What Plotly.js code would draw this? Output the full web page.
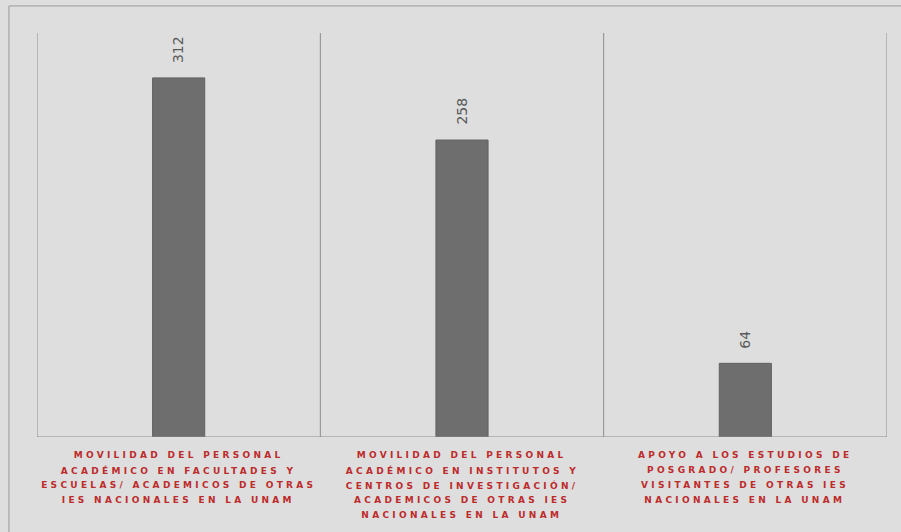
<!DOCTYPE html>
<html>
<head>
<meta charset="utf-8">
<script src="https://cdn.plot.ly/plotly-3.0.1.min.js"></script>
<style>
html,body{margin:0;padding:0;background:#dedede;}
#chart{width:901px;height:532px;}
.catlab text{letter-spacing:3.3px;}
</style>
</head>
<body>
<div id="chart"></div>
<script>
// Data
const categories = [
  "MOVILIDAD DEL PERSONAL<br>ACADÉMICO EN FACULTADES Y<br>ESCUELAS/ ACADEMICOS DE OTRAS<br>IES NACIONALES EN LA UNAM",
  "MOVILIDAD DEL PERSONAL<br>ACADÉMICO EN INSTITUTOS Y<br>CENTROS DE INVESTIGACIÓN/<br>ACADEMICOS DE OTRAS IES<br>NACIONALES EN LA UNAM",
  "APOYO A LOS ESTUDIOS DE<br>POSGRADO/ PROFESORES<br>VISITANTES DE OTRAS IES<br>NACIONALES EN LA UNAM"
];
const values = [312, 258, 64];

const xIdx = categories.map((c, i) => i);

const annotations = [];
// value labels
values.forEach((v, i) => {
  annotations.push({
    x: i, y: v, xref: 'x', yref: 'y',
    text: String(v), showarrow: false, textangle: -90,
    yanchor: 'bottom', yshift: 13,
    font: {family: 'DejaVu Sans, sans-serif', size: 14, color: '#5a5a5a'}
  });
});
// category labels, one annotation per line
categories.forEach((c, i) => {
  c.split('<br>').forEach((line, j) => {
    annotations.push({
      x: i, y: 0, xref: 'x', yref: 'y',
      text: line, showarrow: false,
      yanchor: 'middle', xanchor: 'center', yshift: -18 - j * 15,
      font: {family: 'DejaVu Sans, sans-serif', size: 9, color: '#bd2b2b', weight: 'bold'},
      captureevents: false
    });
  });
});

const shapes = [];
[-0.5, 0.5, 1.5, 2.5].forEach(xv => {
  shapes.push({type: 'line', xref: 'x', yref: 'paper', x0: xv, x1: xv, y0: 0, y1: 1,
    line: {color: '#8c8c8c', width: 1}});
});
shapes.push({type: 'line', xref: 'x', yref: 'y', x0: -0.5, x1: 2.5, y0: 0, y1: 0,
  line: {color: '#8c8c8c', width: 1}});
// outer frame
shapes.push({type: 'line', xref: 'paper', yref: 'paper', x0: -0.033, x1: 1.1, y0: 1.067, y1: 1.067,
  line: {color: '#9a9a9a', width: 1}});
shapes.push({type: 'line', xref: 'paper', yref: 'paper', x0: -0.033, x1: -0.033, y0: 1.067, y1: -0.3,
  line: {color: '#9a9a9a', width: 1}});

const trace = {
  type: 'bar', x: xIdx, y: values,
  marker: {color: '#6e6e6e', line: {color: '#626262', width: 1}},
  width: 0.184, hoverinfo: 'none'
};

const layout = {
  width: 901, height: 532,
  margin: {l: 37, r: 14, t: 33, b: 95},
  paper_bgcolor: '#dedede', plot_bgcolor: 'rgba(0,0,0,0)',
  showlegend: false,
  xaxis: {range: [-0.5, 2.5], showgrid: false, zeroline: false, showticklabels: false, ticks: '', showline: false},
  yaxis: {range: [0, 351], showgrid: false, zeroline: false, showticklabels: false, ticks: '', showline: false},
  annotations: annotations,
  shapes: shapes
};

Plotly.newPlot('chart', [trace], layout, {displayModeBar: false, staticPlot: true}).then(() => {
  document.querySelectorAll('.annotation').forEach(a => {
    const t = a.querySelector('text');
    if (t && t.textContent.length > 4) a.classList.add('catlab');
  });
});
</script>
</body>
</html>
